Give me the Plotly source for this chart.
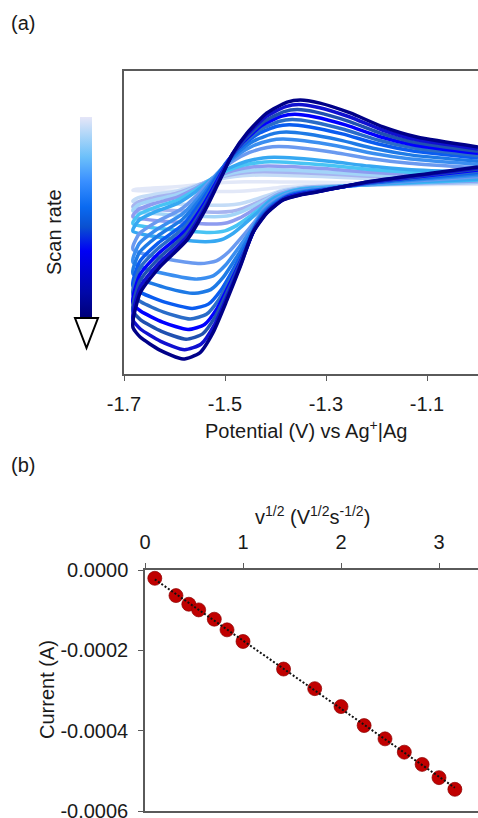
import numpy as np
import plotly.graph_objects as go

# ---------------- data ----------------
# panel (b): peak current vs square root of scan rate
scan_rates = [0.01, 0.1, 0.2, 0.3, 0.5, 0.7, 1, 2, 3, 4, 5, 6, 7, 8, 9, 10]   # V/s
sqrt_v = [0.1, 0.316, 0.447, 0.548, 0.707, 0.837, 1.0, 1.414, 1.732, 2.0,
          2.236, 2.449, 2.646, 2.828, 3.0, 3.162]
peak_current = [-2.07e-5, -6.37e-5, -8.52e-5, -9.93e-5, -1.225e-4, -1.49e-4,
                -1.779e-4, -2.466e-4, -2.954e-4, -3.401e-4, -3.873e-4, -4.204e-4,
                -4.535e-4, -4.84e-4, -5.17e-4, -5.46e-4]

# panel (a): CV of the fastest scan, current in uA
cath_E = [-0.999, -1.088, -1.219, -1.318, -1.351, -1.385, -1.417, -1.445, -1.470,
          -1.496, -1.524, -1.550, -1.583, -1.629, -1.668, -1.682]
cath_I = [56.7, 37.8, 9.5, -22.0, -31.5, -47.3, -88.2, -151.0, -258.0,
          -362.0, -466.0, -529.0, -548.0, -520.0, -479.0, -450.0]
anod_E = [-1.682, -1.668, -1.629, -1.575, -1.536, -1.510, -1.484, -1.456, -1.417,
          -1.377, -1.351, -1.312, -1.252, -1.187, -1.120, -0.999]
anod_I = [-425.0, -340.0, -258.0, -173.0, -69.0, 16.0, 101.0, 164.0, 227.0,
          261.0, 268.0, 258.0, 227.0, 183.0, 151.0, 120.0]
# peak potentials per scan rate
Epc = [-1.50, -1.51, -1.515, -1.52, -1.525, -1.53, -1.538, -1.548, -1.555, -1.56,
       -1.565, -1.569, -1.573, -1.577, -1.58, -1.583]
Epa = [-1.44, -1.43, -1.425, -1.42, -1.415, -1.41, -1.403, -1.394, -1.386, -1.379,
       -1.373, -1.367, -1.362, -1.357, -1.354, -1.351]
curve_colors = ['#e2e8f8', '#c4dcf7', '#a6b4f0', '#a2d4f8', '#8e9cf0', '#48c4f4',
                '#36a8f2', '#6a9af0', '#3a8ef0', '#1e7ae6', '#0a5cf0', '#2a6cc8',
                '#0000ff', '#2050b0', '#1010d0', '#000088']

x_ticks_a = [-1.7, -1.5, -1.3, -1.1]
x_ticktext_a = ['-1.7', '-1.5', '-1.3', '-1.1']
x_ticks_b = [0, 1, 2, 3]
x_ticktext_b = ['0', '1', '2', '3']
y_ticks_b = [0, -0.0002, -0.0004, -0.0006]
y_ticktext_b = ['0.0000', '-0.0002', '-0.0004', '-0.0006']

# ---------------- figure ----------------
W, H = 478, 818
FONT = 'Liberation Sans, Arial, sans-serif'
TXT = '#1a1a1a'
AX = '#5a5a5a'


def px_x(p):
    return p / W


def px_y(p):
    return 1 - p / H


def warp(E, Ep_T, Ep_k, lo=-1.682, hi=-0.999):
    E = np.asarray(E)
    out = np.where(E <= Ep_T,
                   lo + (E - lo) * (Ep_k - lo) / (Ep_T - lo),
                   Ep_k + (E - Ep_T) * (hi - Ep_k) / (hi - Ep_T))
    return out


fig = go.Figure()

ref = peak_current[-1]
for k in range(len(scan_rates)):
    r = peak_current[k] / ref
    ec = warp(cath_E, cath_E[12], Epc[k])
    ea = warp(anod_E, anod_E[10], Epa[k])
    xs = list(ec) + list(ea)
    ys = [v * r for v in cath_I] + [v * r for v in anod_I]
    fig.add_trace(go.Scatter(x=xs, y=ys, mode='lines', xaxis='x', yaxis='y',
                             line=dict(color=curve_colors[k], width=3.5, shape='spline',
                                       smoothing=0.6),
                             showlegend=False, hoverinfo='skip'))

# panel (b)
fit = np.polyfit(sqrt_v, peak_current, 1)
fit_x = [sqrt_v[0], sqrt_v[-1]]
fit_y = [fit[0] * v + fit[1] for v in fit_x]
fig.add_trace(go.Scatter(x=sqrt_v, y=peak_current, mode='markers', xaxis='x2', yaxis='y2',
                         marker=dict(size=14, color='#c00000',
                                     line=dict(color='rgba(140,0,0,0.7)', width=1)),
                         showlegend=False))
fig.add_trace(go.Scatter(x=fit_x, y=fit_y, mode='lines', xaxis='x2', yaxis='y2',
                         line=dict(color='#111111', width=2, dash='2px,2px'),
                         showlegend=False))

# colorbar (scan rate legend)
fig.add_trace(go.Scatter(x=[None], y=[None], mode='markers', xaxis='x', yaxis='y',
                         showlegend=False,
                         marker=dict(color=[0.5], cmin=0, cmax=1, showscale=True,
                                     colorscale=[[0, '#00007a'], [0.12, '#0008a8'],
                                                 [0.33, '#0000f5'], [0.45, '#0a50d0'],
                                                 [0.55, '#0a6af0'], [0.68, '#3a90ff'],
                                                 [0.8, '#6cc0fa'], [0.9, '#a8d4f8'],
                                                 [1, '#e6e6f8']],
                                     colorbar=dict(x=px_x(80), xanchor='left', xpad=0,
                                                   y=px_y(217.5), yanchor='middle', ypad=0,
                                                   len=200, lenmode='pixels',
                                                   thickness=12, thicknessmode='pixels',
                                                   outlinewidth=0, showticklabels=False,
                                                   ticks=''))))

axis_common = dict(showgrid=False, zeroline=False, showline=True, linecolor=AX,
                   linewidth=1.5, automargin=False, ticklabeloverflow='allow',
                   tickfont=dict(family=FONT, size=20, color=TXT))

fig.update_layout(
    template='none',
    width=W, height=H, autosize=False,
    margin=dict(l=0, r=0, t=0, b=0, pad=0),
    paper_bgcolor='white', plot_bgcolor='white',
    xaxis=dict(domain=[px_x(124), 1], range=[-1.7, -0.999], anchor='y',
               tickvals=x_ticks_a, ticktext=x_ticktext_a, ticks='outside', ticklen=5,
               tickcolor=AX, mirror=True, ticklabelstandoff=6, **axis_common),
    yaxis=dict(domain=[px_y(374), px_y(71)], range=[-595.35, 359.1], anchor='x',
               showticklabels=False, ticks='', **axis_common),
    xaxis2=dict(domain=[px_x(145), 1], range=[0, 3.398], anchor='y2', side='top',
                tickvals=x_ticks_b, ticktext=x_ticktext_b, ticks='outside', ticklen=5,
                tickcolor=AX, mirror=True, ticklabelstandoff=6, **axis_common),
    yaxis2=dict(domain=[px_y(811), px_y(570)], range=[-0.0006, 0], anchor='x2',
                tickvals=y_ticks_b, ticktext=y_ticktext_b, ticks='outside', ticklen=5,
                tickcolor=AX, ticklabelstandoff=6, **axis_common),
)

ann_font = dict(family=FONT, size=20, color=TXT)
fig.add_annotation(text='(a)', xref='paper', yref='paper', x=px_x(9), y=px_y(23),
                   xanchor='left', yanchor='middle', showarrow=False, font=ann_font)
fig.add_annotation(text='(b)', xref='paper', yref='paper', x=px_x(9), y=px_y(465),
                   xanchor='left', yanchor='middle', showarrow=False, font=ann_font)
fig.add_annotation(text='Scan rate', xref='paper', yref='paper', x=px_x(54), y=px_y(232),
                   xanchor='center', yanchor='middle', textangle=-90, showarrow=False,
                   font=ann_font)
fig.add_annotation(text='Potential (V) vs Ag<sup>+</sup>|Ag', xref='paper', yref='paper',
                   x=px_x(306), y=px_y(429), xanchor='center', yanchor='middle',
                   showarrow=False, font=ann_font)
fig.add_annotation(text='v<sup>1/2</sup> (V<sup>1/2</sup>s<sup>-1/2</sup>)', xref='paper',
                   yref='paper', x=px_x(312), y=px_y(515), xanchor='center',
                   yanchor='middle', showarrow=False, font=ann_font)
fig.add_annotation(text='Current (A)', xref='paper', yref='paper', x=px_x(47), y=px_y(690),
                   xanchor='center', yanchor='middle', textangle=-90, showarrow=False,
                   font=ann_font)

# arrow head under the colour bar
fig.add_shape(type='path', xref='paper', yref='paper',
              path=f'M {px_x(75)},{px_y(318)} L {px_x(98)},{px_y(318)} L {px_x(86.5)},{px_y(348)} Z',
              fillcolor='white', line=dict(color='black', width=2))

fig.write_html('out.html', config={'displayModeBar': False},
               post_script="document.body.style.margin='0px';"
                           "document.body.style.overflow='hidden';")
